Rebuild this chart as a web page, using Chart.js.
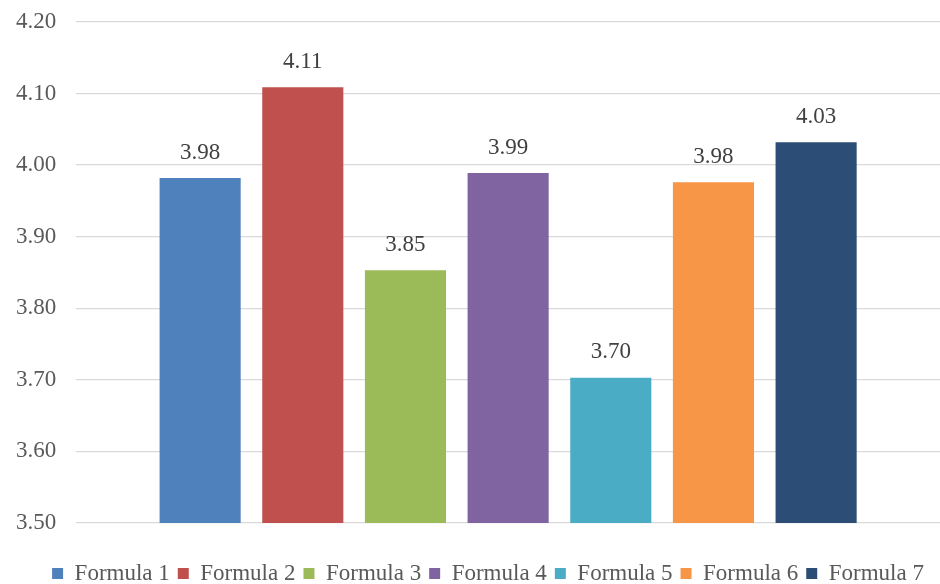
<!DOCTYPE html>
<html>
<head>
<meta charset="utf-8">
<script src="https://cdn.jsdelivr.net/npm/chart.js@4"></script>
<style>
  html, body { margin: 0; padding: 0; background: #fff; }
  #wrap { width: 940px; height: 584px; }
</style>
</head>
<body>
<div id="wrap"><canvas id="chart"></canvas></div>
<script>
const seriesNames = ["Formula 1", "Formula 2", "Formula 3", "Formula 4", "Formula 5", "Formula 6", "Formula 7"];
const seriesValues = [3.982, 4.109, 3.853, 3.989, 3.703, 3.976, 4.032];
const seriesColors = ["#4f81bd", "#c0504d", "#9bbb59", "#8064a2", "#4bacc6", "#f79646", "#2c4d75"];
const yTicks = [3.5, 3.6, 3.7, 3.8, 3.9, 4.0, 4.1, 4.2];

const fontFamily = "'Liberation Serif', 'Times New Roman', serif";

// draws the value above each bar
const valueLabels = {
  id: "valueLabels",
  afterDatasetsDraw(chart) {
    const ctx = chart.ctx;
    ctx.save();
    ctx.font = "23px " + fontFamily;
    ctx.fillStyle = "#404040";
    ctx.textAlign = "center";
    ctx.textBaseline = "bottom";
    chart.data.datasets.forEach((ds, i) => {
      const meta = chart.getDatasetMeta(i);
      meta.data.forEach((bar, j) => {
        ctx.fillText(ds.data[j].toFixed(2), bar.x, bar.y - 14);
      });
    });
    ctx.restore();
  }
};

// nudge the legend a bit to the right, like the original
const legendShift = {
  id: "legendShift",
  afterLayout(chart) {
    if (chart.legend) {
      chart.legend.left += 20;
      chart.legend.right += 20;
    }
  }
};

new Chart(document.getElementById("chart").getContext("2d"), {
  type: "bar",
  data: {
    labels: [""],
    datasets: seriesNames.map((name, i) => ({
      label: name,
      data: [seriesValues[i]],
      backgroundColor: seriesColors[i],
      categoryPercentage: 0.832,
      barPercentage: 0.79
    }))
  },
  options: {
    responsive: true,
    maintainAspectRatio: false,
    animation: false,
    layout: { padding: { left: -4, right: 0, top: 22, bottom: -11 } },
    plugins: {
      legend: {
        position: "bottom",
        labels: {
          boxWidth: 11,
          boxHeight: 11,
          padding: 8,
          color: "#595959",
          font: { family: fontFamily, size: 23 }
        }
      },
      tooltip: { enabled: false }
    },
    scales: {
      x: {
        border: { display: false },
        grid: { display: false },
        ticks: { display: false },
        afterFit(axis) { axis.height = 31; }
      },
      y: {
        min: 3.5,
        max: 4.2,
        afterBuildTicks(axis) {
          axis.ticks = yTicks.map(v => ({ value: v }));
        },
        afterFit(axis) {
          axis.paddingTop = 0;
          axis.paddingBottom = 0;
        },
        border: { display: false },
        grid: { color: "#d9d9d9", lineWidth: 1.3, drawTicks: false },
        ticks: {
          padding: 20,
          color: "#595959",
          font: { family: fontFamily, size: 23 },
          callback: v => v.toFixed(2)
        }
      }
    }
  },
  plugins: [valueLabels, legendShift]
});
</script>
</body>
</html>
